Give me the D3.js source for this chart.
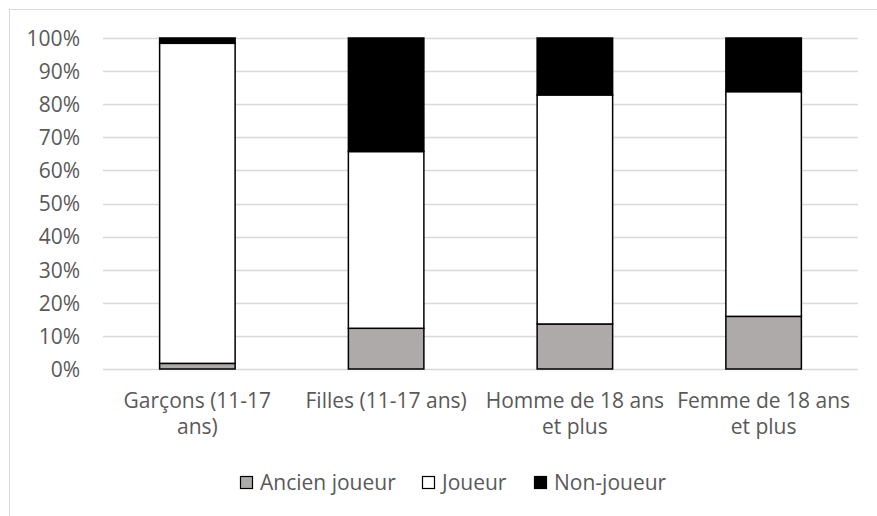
<!DOCTYPE html>
<html>
<head>
<meta charset="utf-8">
<script src="https://cdn.jsdelivr.net/npm/d3@7"></script>
<style>
    html, body { margin: 0; padding: 0; background: #fff; }
    svg text { font-family: "Open Sans", Lato, sans-serif; fill: #595959; }
</style>
</head>
<body>
<div id="chart"></div>
<script>
// Data (percent of each group)
var categories = ['Garçons (11-17 ans)', 'Filles (11-17 ans)', 'Homme de 18 ans et plus', 'Femme de 18 ans et plus'];
var seriesNames = ['Ancien joueur', 'Joueur', 'Non-joueur'];
var ancienJoueur = [1.7, 12.3, 13.6, 15.9];
var joueur = [96.7, 53.4, 69.2, 67.9];
var nonJoueur = [1.6, 34.3, 17.2, 16.2];
var yTicks = [0, 10, 20, 30, 40, 50, 60, 70, 80, 90, 100];

var seriesColors = ['#aeaaaa', '#ffffff', '#000000'];
var fontSize = '21px';

var width = 877, height = 516;
var margin = {top: 38, right: 19, bottom: 147, left: 103};
var innerW = width - margin.left - margin.right,
    innerH = height - margin.top - margin.bottom;

var svg = d3.select('#chart').append('svg')
    .attr('width', width)
    .attr('height', height);

// Chart border
svg.append('rect')
    .attr('x', 9.5).attr('y', 9.5)
    .attr('width', width + 20).attr('height', height + 20)
    .attr('fill', 'none')
    .attr('stroke', '#d9d9d9')
    .attr('stroke-width', 1);

var g = svg.append('g').attr('transform', 'translate(' + margin.left + ',' + margin.top + ')');

var x = d3.scaleBand().domain(categories).range([0, innerW]).paddingInner(0.6).paddingOuter(0.3);
var y = d3.scaleLinear().domain([0, 100]).range([innerH, 0]);

// Gridlines
g.selectAll('.grid').data(yTicks).enter()
    .append('line')
    .attr('x1', 0).attr('x2', innerW)
    .attr('y1', function(d) { return Math.round(y(d)) + 0.5; })
    .attr('y2', function(d) { return Math.round(y(d)) + 0.5; })
    .attr('stroke', '#d9d9d9')
    .attr('stroke-width', 1.3);

// Y axis labels
var yAxis = d3.axisLeft(y).tickValues(yTicks).tickSize(0).tickPadding(23)
    .tickFormat(function(d) { return d + '%'; });
var yG = g.append('g').call(yAxis);
yG.select('.domain').remove();
yG.selectAll('text').style('font-size', fontSize).attr('dy', '0.35em');

// Stack the series
var rows = categories.map(function(c, i) {
    return {cat: c, ancien: ancienJoueur[i], joueur: joueur[i], non: nonJoueur[i]};
});
var stacked = d3.stack().keys(['ancien', 'joueur', 'non'])(rows);

var layers = g.selectAll('.layer').data(stacked).enter()
    .append('g')
    .attr('fill', function(d, i) { return seriesColors[i]; });

layers.selectAll('rect')
    .data(function(d) { return d; })
    .enter()
    .append('rect')
    .attr('x', function(d) { return x(d.data.cat); })
    .attr('width', x.bandwidth())
    .attr('y', function(d) { return y(d[1]); })
    .attr('height', function(d) { return y(d[0]) - y(d[1]); })
    .attr('stroke', '#000')
    .attr('stroke-width', 1.5);

// X labels, wrapped like the original
var xLab = g.append('g').attr('transform', 'translate(0,' + (innerH + 39) + ')');
categories.forEach(function(c) {
    var t = xLab.append('text')
        .attr('x', x(c) + x.bandwidth() / 2)
        .attr('text-anchor', 'middle')
        .style('font-size', fontSize);
    wrapText(t, c, 182, x(c) + x.bandwidth() / 2);
});

function wrapText(textSel, str, maxW, cx) {
    var words = str.split(' ');
    var line = [];
    var tspan = textSel.append('tspan').attr('x', cx).attr('dy', 0);
    words.forEach(function(w) {
        line.push(w);
        tspan.text(line.join(' '));
        if (tspan.node().getComputedTextLength() > maxW && line.length > 1) {
            line.pop();
            tspan.text(line.join(' '));
            line = [w];
            tspan = textSel.append('tspan').attr('x', cx).attr('dy', '26px').text(w);
        }
    });
}

// Legend
var legend = svg.append('g').attr('transform', 'translate(0,483)');
var legendX = [240, 422, 534];
seriesNames.forEach(function(name, i) {
    legend.append('rect')
        .attr('x', legendX[i] + 0.5).attr('y', -6.5)
        .attr('width', 12).attr('height', 12)
        .attr('fill', seriesColors[i])
        .attr('stroke', '#000')
        .attr('stroke-width', 1.2);
    legend.append('text')
        .attr('x', legendX[i] + 20)
        .attr('y', 0)
        .attr('dy', '0.35em')
        .style('font-size', fontSize)
        .text(name);
});
</script>
</body>
</html>
